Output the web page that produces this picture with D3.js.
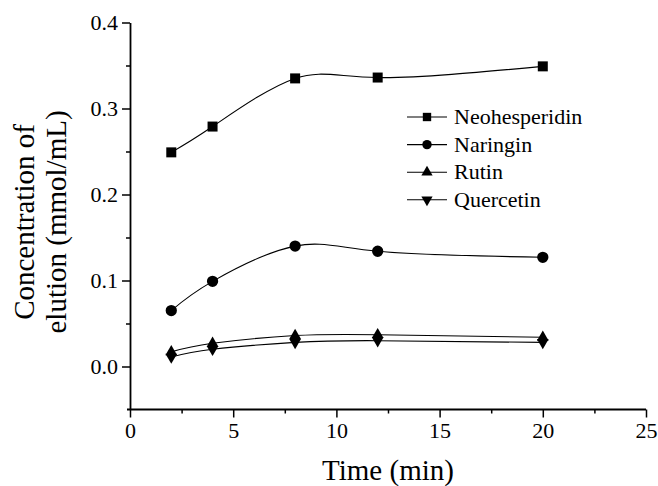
<!DOCTYPE html>
<html>
<head>
<meta charset="utf-8">
<script src="https://cdn.jsdelivr.net/npm/d3@7"></script>
<style>
  body { margin: 0; background: #fff; }
  text { font-family: "Liberation Serif", "Times New Roman", serif; fill: #000; }
</style>
</head>
<body>
<script>
// data
const time = [2, 4, 8, 12, 20];
const neohesperidin = [0.249, 0.279, 0.335, 0.336, 0.349];
const naringin = [0.065, 0.099, 0.140, 0.134, 0.127];
const rutin = [0.017, 0.027, 0.036, 0.037, 0.034];
const quercetin = [0.011, 0.020, 0.028, 0.030, 0.028];
const seriesNames = ['Neohesperidin', 'Naringin', 'Rutin', 'Quercetin'];
const xTicks = [0, 5, 10, 15, 20, 25];
const yTicks = [0.0, 0.1, 0.2, 0.3, 0.4];

const serif = '"Liberation Serif", "Times New Roman", serif';

const svg = d3.select('body').append('svg')
  .attr('width', 658).attr('height', 486);

const x = d3.scaleLinear().domain([0, 25]).range([130, 646]);
const y = d3.scaleLinear().domain([-0.05, 0.4]).range([409.5, 22.5]);

// axes
const gx = svg.append('g').attr('transform', 'translate(0,409.5)')
  .call(d3.axisBottom(x).tickValues(xTicks).tickSize(8).tickSizeOuter(0).tickPadding(5));
svg.append('g').attr('transform', 'translate(0,409.5)')
  .call(d3.axisBottom(x).tickValues([2.5, 7.5, 12.5, 17.5, 22.5]).tickSize(4).tickSizeOuter(0).tickFormat(''))
  .select('.domain').remove();
const gy = svg.append('g').attr('transform', 'translate(130,0)')
  .call(d3.axisLeft(y).tickValues(yTicks).tickSize(8).tickSizeOuter(0).tickPadding(4).tickFormat(d3.format('.1f')));
svg.append('g').attr('transform', 'translate(130,0)')
  .call(d3.axisLeft(y).tickValues([0.05, 0.15, 0.25, 0.35]).tickSize(4).tickSizeOuter(0).tickFormat(''))
  .select('.domain').remove();

gx.attr('font-family', serif).attr('font-size', 22);
gy.attr('font-family', serif).attr('font-size', 22);
svg.selectAll('.domain').attr('stroke-width', 1.8);
svg.selectAll('.tick line').attr('stroke-width', 1.5);
gx.select('.domain').attr('d', 'M127,0H646');

// axis titles
svg.append('text').attr('x', 388).attr('y', 480).attr('text-anchor', 'middle')
  .style('font-size', '29px').text('Time (min)');
svg.append('text').attr('transform', 'translate(34,222) rotate(-90)').attr('text-anchor', 'middle')
  .style('font-size', '29px').text('Concentration of');
svg.append('text').attr('transform', 'translate(66,222) rotate(-90)').attr('text-anchor', 'middle')
  .style('font-size', '29px').text('elution (mmol/mL)');

// series
const symbolTypes = [d3.symbolSquare, d3.symbolCircle, d3.symbolTriangle, d3.symbolTriangle];
const values = [neohesperidin, naringin, rutin, quercetin];
const line = d3.line().x(d => x(d[0])).y(d => y(d[1])).curve(d3.curveNatural);

values.forEach((vals, i) => {
  const pts = time.map((t, j) => [t, vals[j]]);
  svg.append('path').datum(pts).attr('d', line)
    .attr('fill', 'none').attr('stroke', '#000').attr('stroke-width', 1.1);
  svg.selectAll(null).data(pts).enter().append('path')
    .attr('d', d3.symbol().type(symbolTypes[i]).size(i < 2 ? 100 : 60))
    .attr('transform', d => `translate(${x(d[0])},${y(d[1])})` + (i === 3 ? ' rotate(180)' : ''))
    .attr('fill', '#000');
});

// legend
const legend = svg.append('g');
seriesNames.forEach((name, i) => {
  const ly = 117 + i * 27.6;
  legend.append('line').attr('x1', 407).attr('x2', 447).attr('y1', ly).attr('y2', ly)
    .attr('stroke', '#000').attr('stroke-width', 1.1);
  legend.append('path')
    .attr('d', d3.symbol().type(symbolTypes[i]).size(i < 2 ? 70 : 55))
    .attr('transform', `translate(427,${ly})` + (i === 3 ? ' rotate(180)' : ''))
    .attr('fill', '#000');
  legend.append('text').attr('x', 454).attr('y', ly).attr('dy', '0.33em')
    .style('font-size', '22px').text(name);
});
</script>
</body>
</html>
